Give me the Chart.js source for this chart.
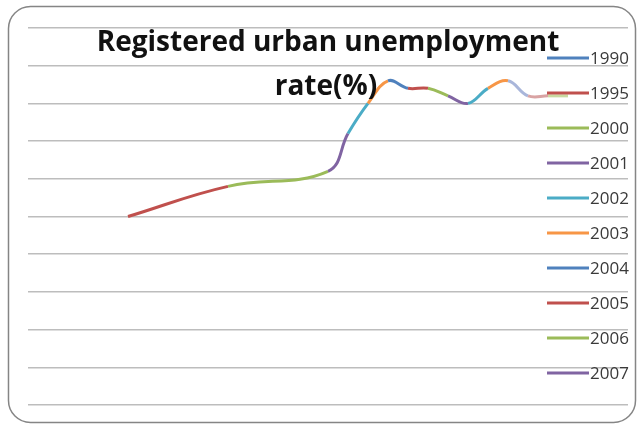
<!DOCTYPE html>
<html lang="en">
<head>
<meta charset="UTF-8">
<title>Registered urban unemployment rate(%)</title>
<script src="https://cdn.jsdelivr.net/npm/chart.js"></script>
<style>
  html, body { margin: 0; padding: 0; background: #fff; }
  canvas { display: block; }
</style>
</head>
<body>
<canvas id="myChart" width="640" height="426"></canvas>
<script>
// registered urban unemployment rate, by year
var years = [1990, 1995, 2000, 2001, 2002, 2003, 2004, 2005, 2006, 2007, 2008, 2009, 2010, 2011, 2012];
var rates = [2.5, 2.9, 3.1, 3.6, 4.0, 4.3, 4.2, 4.2, 4.1, 4.0, 4.2, 4.3, 4.1, 4.1, 4.1];

// one colour per year (the segment that ends at a year takes its colour)
var yearColors = ['#4f81bd', '#c0504d', '#9bbb59', '#8064a2', '#4bacc6', '#f79646',
                  '#4f81bd', '#c0504d', '#9bbb59', '#8064a2', '#4bacc6', '#f79646',
                  '#a9b6da', '#d9a3a3', '#c9d9a0'];

var legendYears = years.slice(0, 10);
var titleLines = ['Registered urban unemployment', 'rate(%)'];

var points = [];
for (var i = 0; i < years.length; i++) {
    points.push({ x: years[i], y: rates[i] });
}

// rounded frame round the whole chart
var framePlugin = {
    id: 'frame',
    beforeDraw: function (chart) {
        var ctx = chart.ctx;
        ctx.save();
        ctx.fillStyle = '#ffffff';
        ctx.fillRect(0, 0, chart.width, chart.height);
        ctx.strokeStyle = '#858585';
        ctx.lineWidth = 1.5;
        ctx.beginPath();
        ctx.roundRect(8.5, 6.5, 627, 416, 22);
        ctx.stroke();
        ctx.restore();
    }
};

// title and legend sit on top of the plot area
var overlayPlugin = {
    id: 'overlay',
    afterDatasetsDraw: function (chart) {
        var ctx = chart.ctx;
        ctx.save();

        ctx.fillStyle = '#111111';
        ctx.font = 'bold 28px "Open Sans"';
        ctx.textAlign = 'center';
        ctx.textBaseline = 'alphabetic';
        ctx.fillText(titleLines[0], 328, 51);
        ctx.fillText(titleLines[1], 326, 95);

        ctx.font = '17px "Open Sans"';
        ctx.textAlign = 'left';
        ctx.textBaseline = 'middle';
        for (var i = 0; i < legendYears.length; i++) {
            var y = 58 + i * 35;
            ctx.strokeStyle = yearColors[i];
            ctx.lineWidth = 3;
            ctx.beginPath();
            ctx.moveTo(547, y);
            ctx.lineTo(589, y);
            ctx.stroke();
            ctx.fillStyle = '#3a3a3a';
            ctx.fillText(String(legendYears[i]), 590, y + 1);
        }
        ctx.restore();
    }
};

var ctx = document.getElementById('myChart').getContext('2d');
var myChart = new Chart(ctx, {
    type: 'line',
    data: {
        datasets: [{
            data: points,
            borderWidth: 3,
            borderColor: yearColors[1],
            pointRadius: 0,
            tension: 0.4,
            fill: false,
            segment: {
                borderColor: function (c) { return yearColors[c.p1DataIndex]; }
            }
        }]
    },
    options: {
        responsive: false,
        animation: false,
        layout: { padding: { left: 28, right: 12, top: 28, bottom: 21 } },
        plugins: {
            legend: { display: false },
            title: { display: false },
            tooltip: { enabled: false }
        },
        scales: {
            x: {
                type: 'linear',
                min: 1985,
                max: 2015,
                display: false
            },
            y: {
                min: 0,
                max: 5,
                ticks: { display: false, stepSize: 0.5 },
                border: { display: false },
                grid: { color: '#bdbdbd', lineWidth: 1.5, drawTicks: false }
            }
        }
    },
    plugins: [framePlugin, overlayPlugin]
});
</script>
</body>
</html>
